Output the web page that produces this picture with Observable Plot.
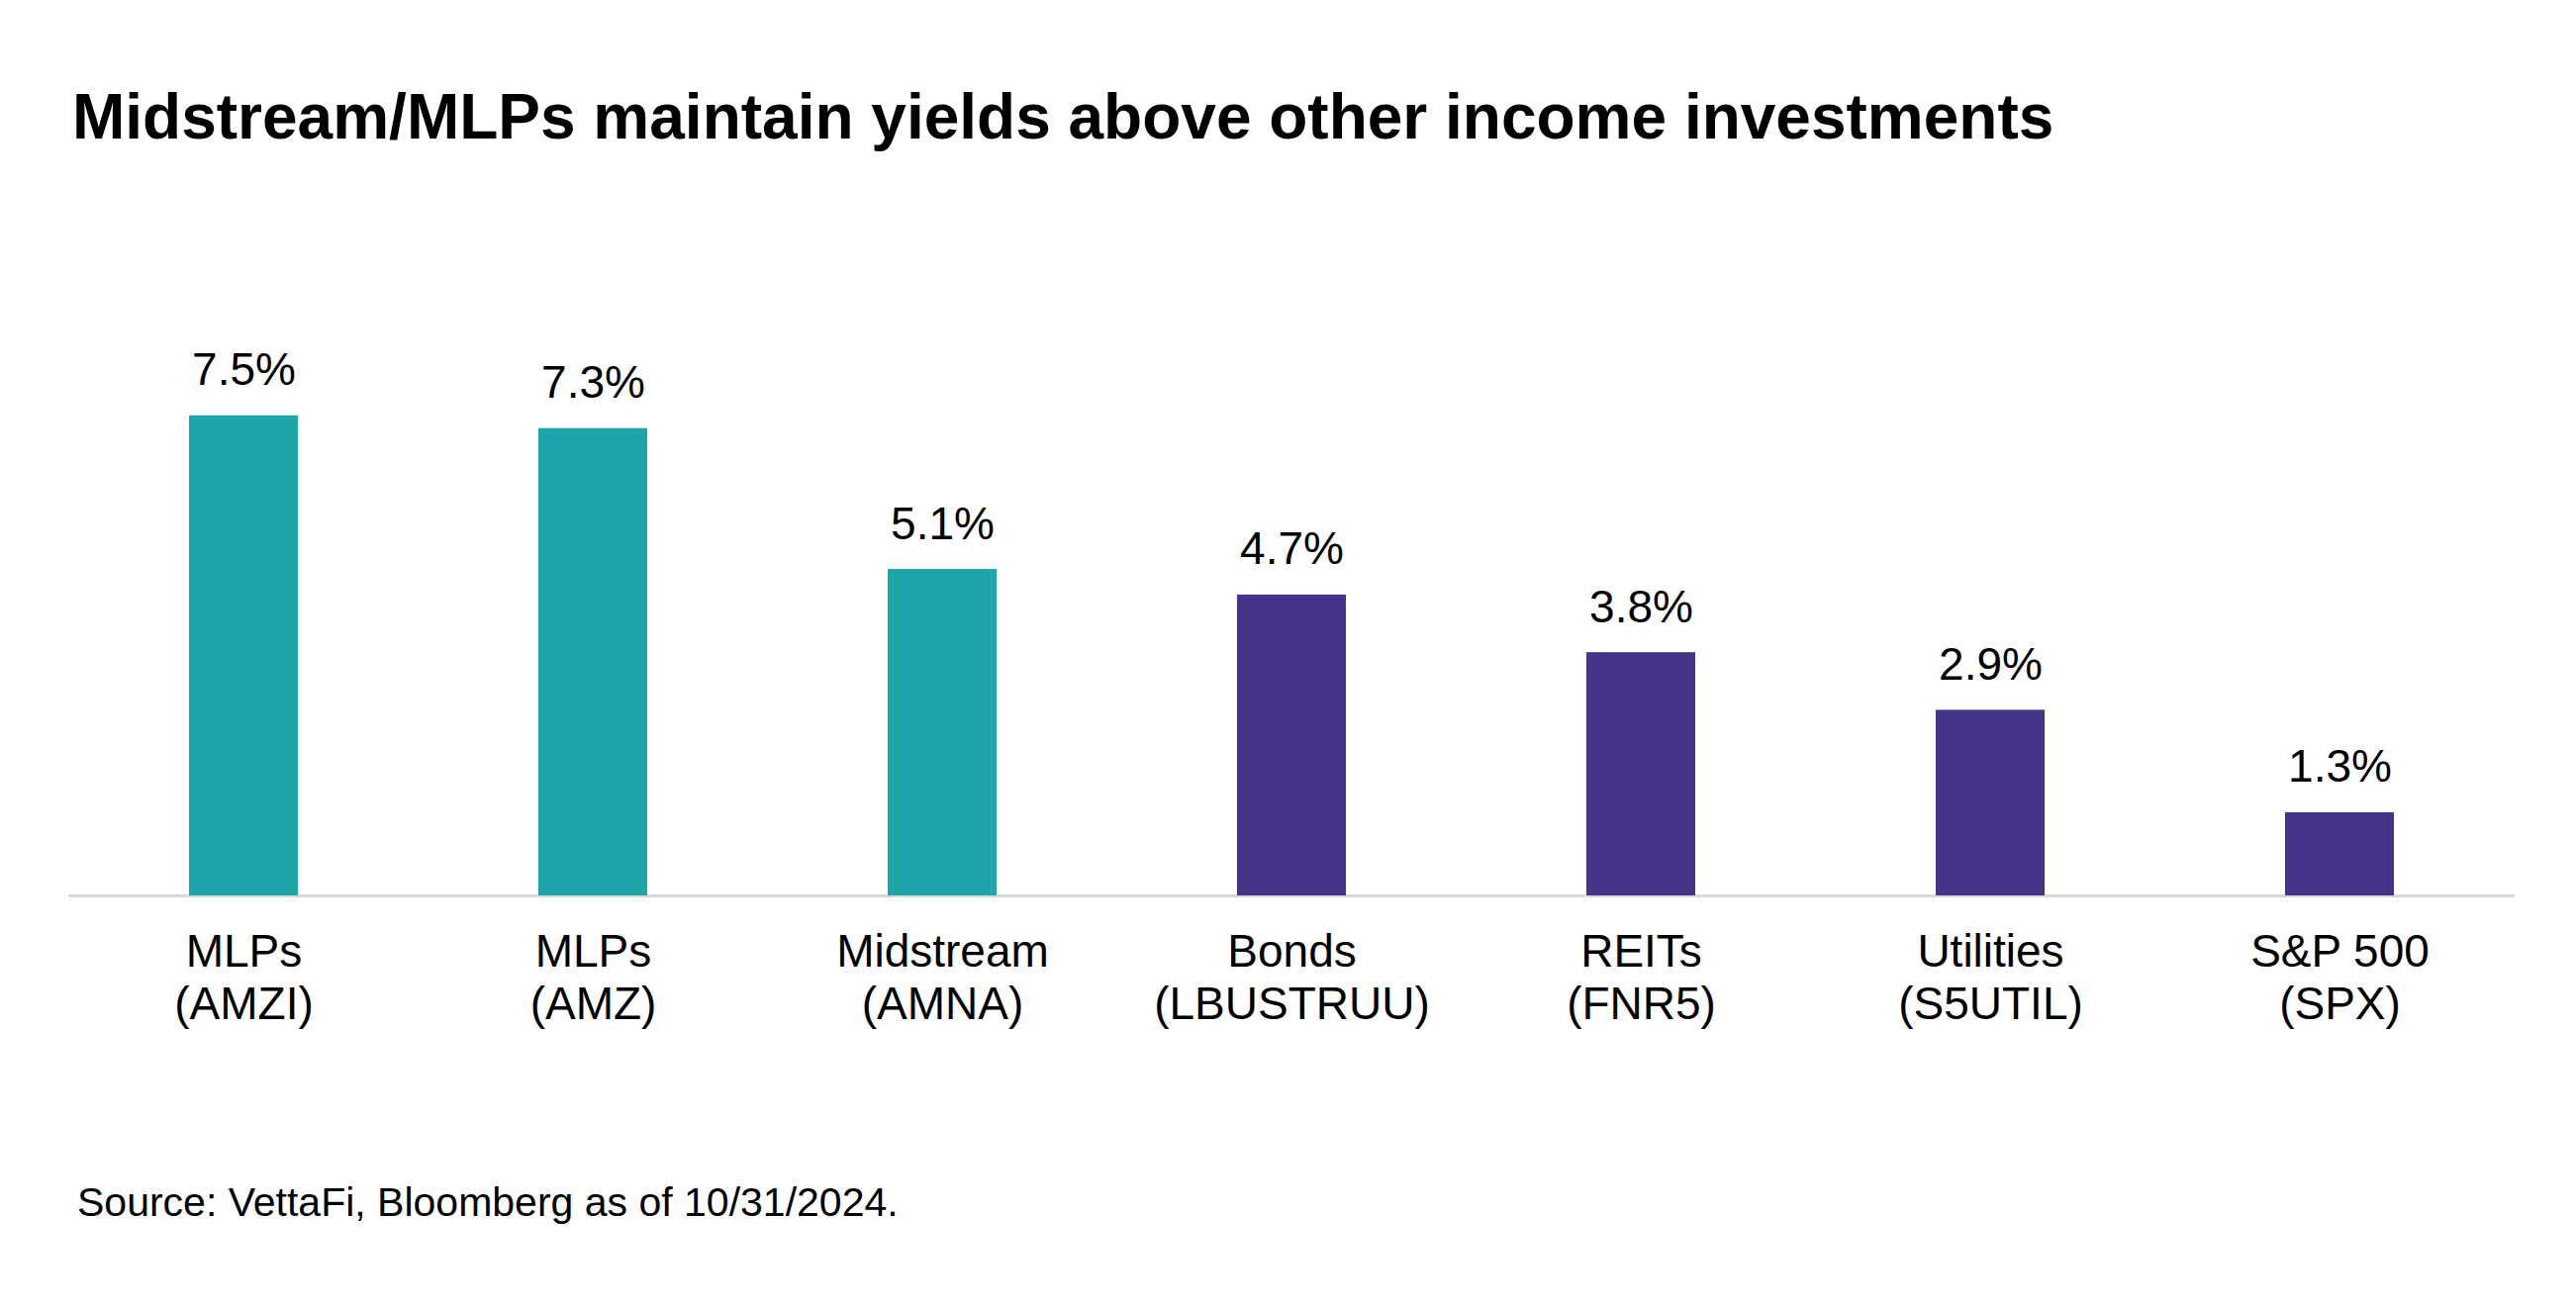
<!DOCTYPE html>
<html>
<head>
<meta charset="utf-8">
<script src="https://cdn.jsdelivr.net/npm/d3@7"></script>
<script src="https://cdn.jsdelivr.net/npm/@observablehq/plot@0.6"></script>
<style>
  html, body { margin: 0; padding: 0; background: #ffffff; }
  body { width: 2603px; height: 1323px; overflow: hidden; font-family: "Liberation Sans", Arial, Helvetica, sans-serif; color: #000; }
  #title { padding: 88px 0 0 73px; height: 61px; font-size: 64px; line-height: 61px; font-weight: bold; white-space: nowrap; }
  #chart { height: 991px; }
  #caption { padding: 55px 0 0 78px; font-size: 41px; line-height: 41px; white-space: nowrap; }
</style>
</head>
<body>
<div id="title">Midstream/MLPs maintain yields above other income investments</div>
<div id="chart"></div>
<div id="caption">Source: VettaFi, Bloomberg as of 10/31/2024.</div>
<script>
const categories = ["MLPs", "MLPs", "Midstream", "Bonds", "REITs", "Utilities", "S&P 500"];
const tickers = ["(AMZI)", "(AMZ)", "(AMNA)", "(LBUSTRUU)", "(FNR5)", "(S5UTIL)", "(SPX)"];
const yields = [7.5, 7.3, 5.1, 4.7, 3.8, 2.9, 1.3];
const groups = ["Midstream/MLPs", "Midstream/MLPs", "Midstream/MLPs", "Other", "Other", "Other", "Other"];

const labels = categories.map((c, i) => c + "\n" + tickers[i]);
const data = labels.map((label, i) => ({label, value: yields[i], group: groups[i]}));

const chart = Plot.plot({
  width: 2603,
  height: 991,
  marginLeft: 69,
  marginRight: 62,
  marginTop: 238.4,
  marginBottom: 235,
  style: {fontFamily: "'Liberation Sans', Arial, Helvetica, sans-serif", background: "white", color: "#000", overflow: "visible"},
  x: {domain: labels, paddingInner: 0.6885, paddingOuter: 0.344, axis: null},
  y: {domain: [0, 8], axis: null},
  color: {domain: ["Midstream/MLPs", "Other"], range: ["#1fa4a9", "#46348a"]},
  marks: [
    Plot.ruleY([0], {stroke: "#d9d9d9", strokeWidth: 3}),
    Plot.barY(data, {x: "label", y: "value", fill: "group"}),
    Plot.text(data, {x: "label", y: "value", text: d => d.value.toFixed(1) + "%", lineAnchor: "bottom", dy: -31, fontSize: 46, fill: "#000"}),
    Plot.axisX({tickSize: 0, tickPadding: 34, fontSize: 46, lineHeight: 1.15, label: null, fill: "#000"})
  ]
});
document.getElementById("chart").appendChild(chart);
</script>
</body>
</html>
